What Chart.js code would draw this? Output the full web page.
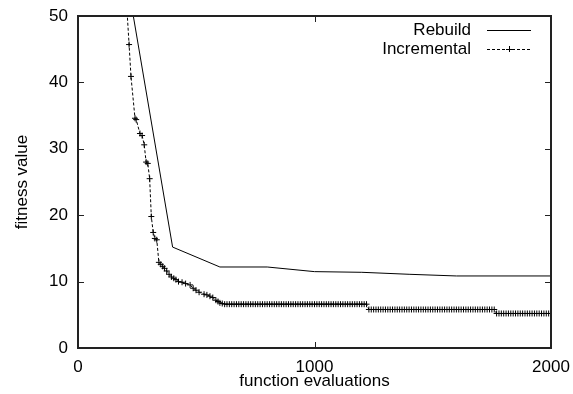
<!DOCTYPE html>
<html>
<head>
<meta charset="utf-8">
<script src="https://cdn.jsdelivr.net/npm/chart.js@4/dist/chart.umd.min.js"></script>
<style>
  html, body { margin: 0; padding: 0; background: #fff; }
  #wrap { width: 573px; height: 394px; }
</style>
</head>
<body>
<div id="wrap"><canvas id="fitnessChart"></canvas></div>
<script>
/* ===============================
   DATA
================================ */
const xTicks = [0, 1000, 2000];
const yTicks = [0, 10, 20, 30, 40, 50];
const seriesNames = ["Rebuild", "Incremental"];

const rebuildEvals   = [200, 400, 600, 800, 1000, 1200, 1400, 1600, 2000];
const rebuildFitness = [57.1, 15.2, 12.2, 12.2, 11.5, 11.4, 11.1, 10.85, 10.85];

// steep early part of the incremental run
const incrementalEvals = [200, 216, 224, 241, 246, 262, 271, 280, 288, 295, 303, 310, 318, 325, 333, 342,
  350, 358, 366, 375, 385, 395, 405, 414, 425, 440, 455, 474, 487, 499, 512, 533, 545, 558, 570, 583, 592, 600, 610];
const incrementalFitness = [55, 45.7, 40.9, 34.6, 34.4, 32.3, 32.0, 30.6, 28.0, 27.8, 25.5, 19.8, 17.4, 16.5, 16.3, 12.9,
  12.6, 12.3, 12.0, 11.6, 11.1, 10.7, 10.5, 10.3, 10.0, 9.9, 9.7, 9.5, 9.0, 8.7, 8.4, 8.1, 8.0, 7.8, 7.6, 7.2, 7.0, 6.8, 6.7];

// flat plateaus of the incremental run: one level, many evaluations
const plateauLevels = [6.6, 5.8, 5.2];
const plateauEvals = [
  [620, 630, 640, 650, 660, 670, 680, 690, 700, 710, 720, 730, 740, 750, 760, 770, 780, 790, 800, 810,
   820, 830, 840, 850, 860, 870, 880, 890, 900, 910, 920, 930, 940, 950, 960, 970, 980, 990, 1000, 1010,
   1020, 1030, 1040, 1050, 1060, 1070, 1080, 1090, 1100, 1110, 1120, 1130, 1140, 1150, 1160, 1170, 1180,
   1190, 1200, 1210, 1220],
  [1230, 1240, 1250, 1260, 1270, 1280, 1290, 1300, 1310, 1320, 1330, 1340, 1350, 1360, 1370, 1380, 1390,
   1400, 1410, 1420, 1430, 1440, 1450, 1460, 1470, 1480, 1490, 1500, 1510, 1520, 1530, 1540, 1550, 1560,
   1570, 1580, 1590, 1600, 1610, 1620, 1630, 1640, 1650, 1660, 1670, 1680, 1690, 1700, 1710, 1720, 1730,
   1740, 1750, 1760],
  [1770, 1780, 1790, 1800, 1810, 1820, 1830, 1840, 1850, 1860, 1870, 1880, 1890, 1900, 1910, 1920, 1930,
   1940, 1950, 1960, 1970, 1980, 1990, 2000]
];

const FONT = "'Liberation Sans', Arial, Helvetica, sans-serif";
const FONT_SIZE = 17;

/* ===============================
   POINTS
================================ */
const rebuildPoints = rebuildEvals.map((x, i) => ({ x, y: rebuildFitness[i] }));
const incrementalPoints = incrementalEvals.map((x, i) => ({ x, y: incrementalFitness[i] }));
plateauEvals.forEach((list, k) => {
  list.forEach(x => incrementalPoints.push({ x, y: plateauLevels[k] }));
});

/* ===============================
   FRAME, INWARD TICKS, LEGEND
================================ */
const gnuplotFrame = {
  id: "gnuplotFrame",
  afterDraw(chart) {
    const { ctx, chartArea: a, scales } = chart;
    const tick = 6;
    const L = Math.round(a.left), R = Math.round(a.right);
    const T = Math.round(a.top), B = Math.round(a.bottom);
    ctx.save();
    ctx.fillStyle = "#222";
    // border box
    ctx.fillRect(L - 1, T - 1, R - L + 2, 2);
    ctx.fillRect(L - 1, B - 1, R - L + 2, 2);
    ctx.fillRect(L - 1, T - 1, 2, B - T + 2);
    ctx.fillRect(R - 1, T - 1, 2, B - T + 2);

    // inward ticks on all four sides
    xTicks.forEach(v => {
      const px = Math.round(scales.x.getPixelForValue(v));
      ctx.fillRect(px, B - tick, 1, tick);
      ctx.fillRect(px, T, 1, tick);
    });
    yTicks.forEach(v => {
      const py = Math.round(scales.y.getPixelForValue(v));
      ctx.fillRect(L, py, tick, 1);
      ctx.fillRect(R - tick, py, tick, 1);
    });

    // legend, gnuplot style: text right-aligned, sample on the right
    const textRight = 471, lineX0 = 487, lineX1 = 531;
    const rows = [30, 49];
    ctx.font = FONT_SIZE + "px " + FONT;
    ctx.fillStyle = "#000";
    ctx.textAlign = "right";
    ctx.textBaseline = "middle";
    seriesNames.forEach((name, i) => ctx.fillText(name, textRight, rows[i]));

    ctx.strokeStyle = "#000";
    ctx.lineWidth = 1;
    ctx.beginPath();
    ctx.moveTo(lineX0, rows[0] + 0.5); ctx.lineTo(lineX1, rows[0] + 0.5);
    ctx.stroke();

    ctx.setLineDash([3, 2]);
    ctx.beginPath();
    ctx.moveTo(lineX0, rows[1] + 0.5); ctx.lineTo(lineX1, rows[1] + 0.5);
    ctx.stroke();
    ctx.setLineDash([]);
    const cx = (lineX0 + lineX1) / 2;
    ctx.beginPath();
    ctx.moveTo(cx - 3, rows[1] + 0.5); ctx.lineTo(cx + 3, rows[1] + 0.5);
    ctx.moveTo(cx + 0.5, rows[1] - 3); ctx.lineTo(cx + 0.5, rows[1] + 3);
    ctx.stroke();
    ctx.restore();
  }
};

/* ===============================
   CHART
================================ */
new Chart(document.getElementById("fitnessChart"), {
  type: "line",
  data: {
    datasets: [
      {
        label: seriesNames[0],
        data: rebuildPoints,
        borderColor: "#000",
        borderWidth: 1,
        pointRadius: 0,
        tension: 0
      },
      {
        label: seriesNames[1],
        data: incrementalPoints,
        borderColor: "#000",
        borderWidth: 1,
        borderDash: [3, 2],
        pointStyle: "cross",
        pointRadius: 3,
        pointBorderWidth: 1,
        pointBorderColor: "#000",
        pointBackgroundColor: "#000",
        tension: 0
      }
    ]
  },
  options: {
    responsive: true,
    maintainAspectRatio: false,
    animation: false,
    layout: { padding: { top: 16, right: 22, left: 0, bottom: 0 } },
    plugins: {
      legend: { display: false },
      tooltip: { enabled: false }
    },
    scales: {
      x: {
        type: "linear",
        min: 0,
        max: 2000,
        afterBuildTicks: s => { s.ticks = xTicks.map(v => ({ value: v })); },
        afterFit: s => { s.height = 46; s.paddingLeft = 0; s.paddingRight = 0; },
        grid: { display: false, drawTicks: false },
        border: { display: true, color: "#222", width: 2 },
        ticks: {
          font: { family: FONT, size: FONT_SIZE },
          color: "#000",
          padding: 9,
          maxRotation: 0,
          callback: v => String(v)
        },
        title: {
          display: true,
          text: "function evaluations",
          font: { family: FONT, size: FONT_SIZE },
          color: "#000",
          padding: { top: 0, bottom: 2 }
        }
      },
      y: {
        min: 0,
        max: 50,
        afterBuildTicks: s => { s.ticks = yTicks.map(v => ({ value: v })); },
        afterFit: s => { s.width = 78; s.paddingTop = 0; s.paddingBottom = 0; },
        grid: { display: false, drawTicks: false },
        border: { display: true, color: "#222", width: 2 },
        ticks: {
          font: { family: FONT, size: FONT_SIZE },
          color: "#000",
          padding: 10,
          callback: v => String(v)
        },
        title: {
          display: true,
          text: "fitness value",
          font: { family: FONT, size: FONT_SIZE },
          color: "#000",
          padding: { top: 12, bottom: 0 }
        }
      }
    }
  },
  plugins: [gnuplotFrame]
});
</script>
</body>
</html>
